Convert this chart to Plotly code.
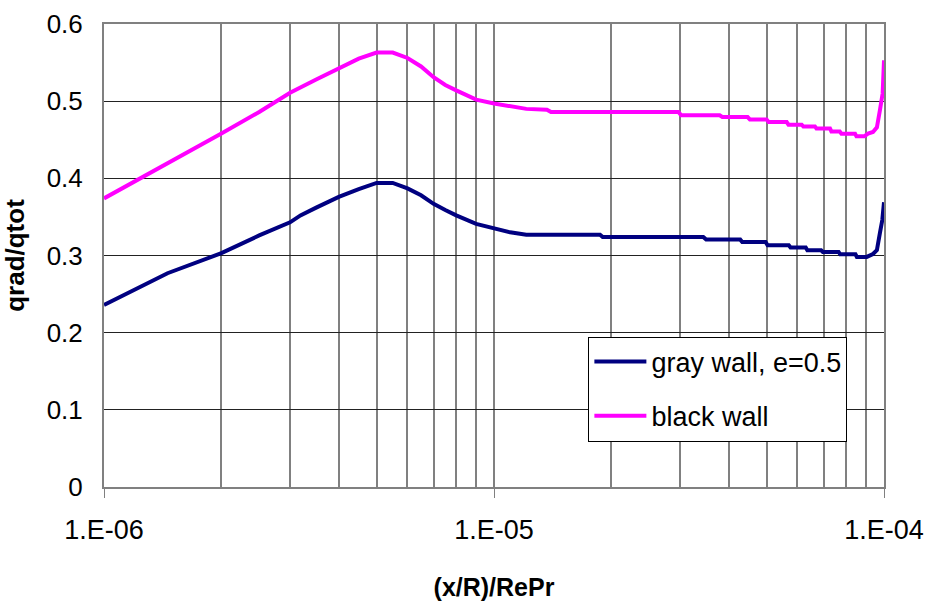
import plotly.graph_objects as go

# ---- data ----
gray_x = [1.0e-6, 1.455e-6, 2.0e-6, 2.5e-6, 3.0e-6, 3.19e-6, 3.5e-6, 4.0e-6, 4.5e-6,
          5.0e-6, 5.5e-6, 6.0e-6, 6.5e-6, 7.0e-6, 7.5e-6, 8.0e-6, 9.0e-6, 1.0e-5,
          1.1e-5, 1.21e-5, 1.87e-5, 1.9e-5, 3.44e-5, 3.5e-5, 4.28e-5, 4.33e-5,
          4.97e-5, 5.03e-5, 5.7e-5, 5.76e-5, 6.3e-5, 6.36e-5, 6.9e-5, 6.97e-5,
          7.65e-5, 7.72e-5, 8.45e-5, 8.52e-5, 9.03e-5, 9.37e-5, 9.59e-5, 9.76e-5,
          9.9e-5, 1.0e-4]
gray_y = [0.236, 0.277, 0.303, 0.326, 0.343, 0.352, 0.362, 0.376, 0.386,
          0.394, 0.394, 0.387, 0.378, 0.367, 0.359, 0.352, 0.341, 0.335,
          0.330, 0.327, 0.327, 0.324, 0.324, 0.3206, 0.3206, 0.3176,
          0.3176, 0.3133, 0.3133, 0.3103, 0.3103, 0.3068, 0.3068, 0.3046,
          0.3046, 0.3016, 0.3016, 0.2982, 0.2982, 0.302, 0.307, 0.329,
          0.346, 0.369]

black_x = [1.0e-6, 1.455e-6, 2.0e-6, 2.5e-6, 3.0e-6, 3.5e-6, 4.0e-6, 4.5e-6,
           5.0e-6, 5.5e-6, 6.0e-6, 6.5e-6, 7.0e-6, 7.5e-6, 8.0e-6, 9.0e-6, 1.0e-5,
           1.1e-5, 1.21e-5, 1.367e-5, 1.4e-5, 2.97e-5, 3.02e-5, 3.79e-5, 3.85e-5,
           4.47e-5, 4.53e-5, 5.0e-5, 5.06e-5, 5.63e-5, 5.69e-5, 6.15e-5, 6.21e-5,
           6.65e-5, 6.71e-5, 7.27e-5, 7.33e-5, 7.7e-5, 7.78e-5, 8.43e-5, 8.5e-5,
           8.9e-5, 9.1e-5, 9.37e-5, 9.59e-5, 9.76e-5, 9.92e-5, 1.0e-4]
black_y = [0.374, 0.419, 0.458, 0.486, 0.511, 0.528, 0.542, 0.555,
           0.563, 0.563, 0.556, 0.545, 0.531, 0.521, 0.514, 0.502, 0.497,
           0.494, 0.490, 0.489, 0.486, 0.486, 0.4816, 0.4816, 0.4794,
           0.4794, 0.4764, 0.4764, 0.4729, 0.4729, 0.4695, 0.4695, 0.4673,
           0.4673, 0.4647, 0.4647, 0.4608, 0.4608, 0.4578, 0.4578, 0.4544,
           0.4544, 0.458, 0.460, 0.466, 0.488, 0.510, 0.553]

major_ticks = [1e-6, 1e-5, 1e-4]
major_labels = ["1.E-06", "1.E-05", "1.E-04"]
minor_ticks = [m * d for d in (1e-6, 1e-5) for m in range(2, 10)]
y_ticks = [0, 0.1, 0.2, 0.3, 0.4, 0.5, 0.6]
y_labels = ["0", "0.1", "0.2", "0.3", "0.4", "0.5", "0.6"]

FONT = "Liberation Sans, Arial, sans-serif"

fig = go.Figure()
fig.add_trace(go.Scatter(x=gray_x, y=gray_y, mode="lines", name="gray wall, e=0.5",
                         legendgroup="a",
                         line=dict(color="#000080", width=4)))
fig.add_trace(go.Scatter(x=black_x, y=black_y, mode="lines", name="black wall",
                         legendgroup="b",
                         line=dict(color="#FF00FF", width=4)))

fig.update_layout(
    width=926, height=609,
    margin=dict(l=104, r=42, t=24, b=122),
    paper_bgcolor="white", plot_bgcolor="white",
    font=dict(family=FONT, color="black"),
    showlegend=True,
    legend=dict(x=0.621, y=0.325, xanchor="left", yanchor="top",
                bgcolor="white", bordercolor="black", borderwidth=1,
                font=dict(size=27, family=FONT), tracegroupgap=16,
                itemwidth=52),
    xaxis=dict(
        type="log", range=[-6, -4], automargin=False,
        tickvals=major_ticks, ticktext=major_labels,
        tickfont=dict(size=27, family=FONT),
        ticks="outside", ticklen=9, tickcolor="#808080", tickwidth=1,
        ticklabelstandoff=9,
        showgrid=True, gridcolor="#808080", gridwidth=1.5,
        minor=dict(tickvals=minor_ticks, showgrid=True, gridcolor="#808080",
                   gridwidth=1.5, ticks=""),
        showline=True, linecolor="#808080", linewidth=2, mirror=True,
        zeroline=False,
        title=dict(text="<b>(x/R)/RePr</b>", font=dict(size=25, family=FONT),
                   standoff=34),
    ),
    yaxis=dict(
        range=[0, 0.6], automargin=False,
        tickvals=y_ticks, ticktext=y_labels,
        tickfont=dict(size=26, family=FONT),
        ticks="", ticklabelstandoff=14,
        showgrid=True, gridcolor="#222222", gridwidth=1,
        showline=True, linecolor="#808080", linewidth=2, mirror=True,
        zeroline=False,
        title=dict(text="<b>qrad/qtot</b>", font=dict(size=26, family=FONT),
                   standoff=16),
    ),
)

fig.write_html("out.html")
